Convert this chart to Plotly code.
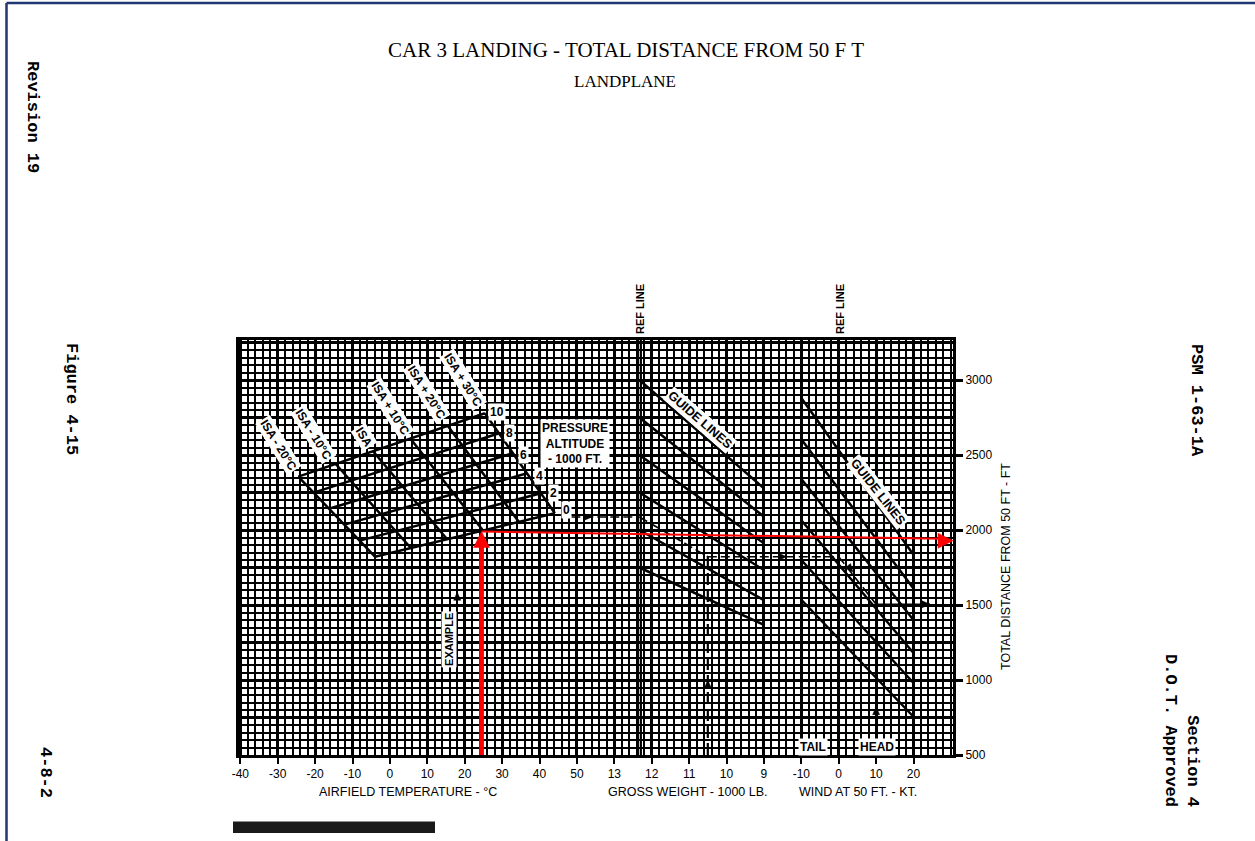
import math
import plotly.graph_objects as go

# ------------------------------------------------------------------ scales
# One shared x scale: airfield temperature (deg C) on the left, then the
# gross-weight and wind panels continue at the same grid pitch.
def weight_x(w):
    """Gross weight (1000 lb) -> shared x position."""
    return 190 - 10 * w


def wind_x(k):
    """Wind at 50 ft (kt) -> shared x position."""
    return 120 + k


X_RANGE = [-40.35, 150.56]
Y_RANGE = [500, 3266.7]

FIG_W, FIG_H = 1255, 841
PLOT_L, PLOT_R, PLOT_T, PLOT_B = 239, 953, 340, 755

# ------------------------------------------------------------------ ticks
TEMP_TICKS = [-40, -30, -20, -10, 0, 10, 20, 30, 40, 50]
WEIGHT_TICKS = [13, 12, 11, 10, 9]
WIND_TICKS = [-10, 0, 10, 20]
DIST_TICKS = [500, 1000, 1500, 2000, 2500, 3000]

# ------------------------------------------------- temperature / altitude
# pressure altitude lines (1000 ft): end points (deg C, ft)
ALT_LEVELS = [0, 2, 4, 6, 8, 10]
ALT_LEFT_T = [-4.0, -8.1, -12.2, -16.3, -20.4, -24.5]
ALT_LEFT_FT = [1822, 1929, 2036, 2142, 2249, 2356]
ALT_RIGHT_T = [44.1, 40.4, 36.7, 32.9, 29.2, 25.4]
ALT_RIGHT_FT = [2112, 2245, 2378, 2512, 2645, 2778]
ALT_LABEL_T = [47.3, 43.7, 39.9, 35.7, 32.1, 28.6]
ALT_LABEL_FT = [2133, 2245, 2360, 2500, 2645, 2789]

# ISA deviation lines: top end on the 10 line, bottom end on the 0 line
ISA_NAMES = ["ISA - 20°C", "ISA - 10°C", "ISA", "ISA + 10°C", "ISA + 20°C", "ISA + 30°C"]
ISA_TOP_T = [-24.5, -14.5, -4.5, 5.5, 15.5, 25.4]
ISA_TOP_FT = [2356, 2440, 2525, 2609, 2694, 2778]
ISA_BOT_T = [-4.0, 5.6, 15.3, 24.9, 34.5, 44.1]
ISA_BOT_FT = [1822, 1880, 1938, 1996, 2054, 2112]
ISA_LABEL_T = [-29.8, -20.5, -6.9, 0.0, 9.8, 19.6]
ISA_LABEL_FT = [2567, 2640, 2620, 2811, 2922, 3000]

# ------------------------------------------------------------ weight panel
REF_WEIGHT = 12.33
WEIGHT_GUIDE_END = 9.0
WEIGHT_GUIDE_START_FT = [3000, 2750, 2500, 2250, 2000, 1750]
WEIGHT_GUIDE_END_FT = [2278, 2089, 1911, 1733, 1533, 1367]

# -------------------------------------------------------------- wind panel
REF_WIND = 0
WIND_GUIDE_FROM, WIND_GUIDE_TO = -10, 20
WIND_GUIDE_START_FT = [2880, 2605, 2340, 2065, 1800, 1535]
WIND_GUIDE_END_FT = [1835, 1610, 1400, 1180, 980, 755]

# ------------------------------------------------------- printed example
EX_TEMP, EX_TEMP_TOP = 18.0, 1955
EX_REF_FT = 2087
EX_WEIGHT, EX_WEIGHT_FT = 10.5, 1822
EX_WIND, EX_RESULT_FT = 10, 1505

# ----------------------------------------------------- marked-up example
RED_TEMP, RED_REF_FT, RED_RESULT_FT = 24.5, 1990, 1929

DX = (X_RANGE[1] - X_RANGE[0]) / (PLOT_R - PLOT_L)   # data units per pixel
DY = (Y_RANGE[1] - Y_RANGE[0]) / (PLOT_B - PLOT_T)


def head(x_tip, y_tip, ux, uy, length, width):
    """Triangle arrow head with its tip at (x_tip, y_tip); size in pixels."""
    n = math.hypot(ux, uy)
    ux, uy = ux / n, uy / n
    nx, ny = -uy, ux
    bx, by = -ux * length, -uy * length
    xs = [x_tip,
          x_tip + (bx + nx * width / 2) * DX,
          x_tip + (bx - nx * width / 2) * DX,
          x_tip]
    ys = [y_tip,
          y_tip + (by + ny * width / 2) * DY,
          y_tip + (by - ny * width / 2) * DY,
          y_tip]
    return xs, ys


def segments(pairs):
    xs, ys = [], []
    for (x0, y0), (x1, y1) in pairs:
        xs += [x0, x1, None]
        ys += [y0, y1, None]
    return xs, ys


fig = go.Figure()


def add_lines(pairs, color="black", width=2.2, dash=None):
    xs, ys = segments(pairs)
    fig.add_trace(go.Scatter(x=xs, y=ys, mode="lines", hoverinfo="skip",
                             line=dict(color=color, width=width, dash=dash)))


def add_head(x, y, ux, uy, length=8, width=7, color="black"):
    xs, ys = head(x, y, ux, uy, length, width)
    fig.add_trace(go.Scatter(x=xs, y=ys, mode="lines", fill="toself",
                             fillcolor=color, hoverinfo="skip",
                             line=dict(color=color, width=0.5)))


# heavy 250 ft rules come from an overlaid axis
fig.add_trace(go.Scatter(x=[0], y=[1000], yaxis="y2", mode="markers",
                         marker=dict(opacity=0), hoverinfo="skip"))

# temperature / pressure-altitude net
add_lines([((ISA_TOP_T[i], ISA_TOP_FT[i]), (ISA_BOT_T[i], ISA_BOT_FT[i]))
           for i in range(len(ISA_NAMES))], width=2.5)
add_lines([((ALT_LEFT_T[i], ALT_LEFT_FT[i]), (ALT_RIGHT_T[i], ALT_RIGHT_FT[i]))
           for i in range(len(ALT_LEVELS))], width=2.5)

# reference lines
add_lines([((weight_x(REF_WEIGHT + 0.04), Y_RANGE[0]), (weight_x(REF_WEIGHT + 0.04), Y_RANGE[1])),
           ((weight_x(REF_WEIGHT - 0.04), Y_RANGE[0]), (weight_x(REF_WEIGHT - 0.04), Y_RANGE[1]))],
          width=2.2)
add_lines([((wind_x(REF_WIND), Y_RANGE[0]), (wind_x(REF_WIND), Y_RANGE[1]))], width=2.6)

# guide lines
add_lines([((weight_x(REF_WEIGHT), a), (weight_x(WEIGHT_GUIDE_END), b))
           for a, b in zip(WEIGHT_GUIDE_START_FT, WEIGHT_GUIDE_END_FT)], width=2.5)
add_lines([((wind_x(WIND_GUIDE_FROM), a), (wind_x(WIND_GUIDE_TO), b))
           for a, b in zip(WIND_GUIDE_START_FT, WIND_GUIDE_END_FT)], width=2.5)

# printed example path
add_lines([((EX_TEMP, Y_RANGE[0]), (EX_TEMP, EX_TEMP_TOP)),
           ((wind_x(EX_WIND), Y_RANGE[0]), (wind_x(EX_WIND), EX_RESULT_FT)),
           ((wind_x(EX_WIND), EX_RESULT_FT), (wind_x(24.4), EX_RESULT_FT))], width=1.6)
add_lines([((48.5, EX_REF_FT), (weight_x(REF_WEIGHT), EX_REF_FT)),
           ((weight_x(REF_WEIGHT), EX_REF_FT), (weight_x(EX_WEIGHT), EX_WEIGHT_FT)),
           ((weight_x(EX_WEIGHT), EX_WEIGHT_FT), (wind_x(REF_WIND), EX_WEIGHT_FT)),
           ((wind_x(REF_WIND), EX_WEIGHT_FT), (wind_x(EX_WIND), EX_RESULT_FT))],
          width=1.6, dash="9px,4px")
add_lines([((weight_x(EX_WEIGHT), Y_RANGE[0]), (weight_x(EX_WEIGHT), EX_WEIGHT_FT))],
          width=2.2, dash="12px,5px")
add_head(EX_TEMP, 1585, 0, 1)
add_head(54.0, EX_REF_FT, 1, 0)
add_head(weight_x(EX_WEIGHT), 1000, 0, 1)
add_head(106.1, EX_WEIGHT_FT, 1, 0)
add_head(wind_x(3.8), 1720, 38, -46)
add_head(wind_x(EX_WIND), 822, 0, 1)
add_head(wind_x(24.4), EX_RESULT_FT, 1, 0)

# marked-up example (red)
add_lines([((RED_TEMP, Y_RANGE[0]), (RED_TEMP, RED_REF_FT - 12 * DY))],
          color="#ff0000", width=4.8)
add_lines([((RED_TEMP, RED_REF_FT), (X_RANGE[1] - 12 * DX, RED_RESULT_FT + 2 * DY))],
          color="#ff0000", width=2)
add_head(RED_TEMP, RED_REF_FT, 0, 1, length=16, width=16, color="#ff0000")
add_head(X_RANGE[1], RED_RESULT_FT, 1, 0, length=15, width=15, color="#ff0000")

# ------------------------------------------------------------ annotations
SANS = "Liberation Sans"
MONO = "Liberation Mono"
SERIF = "Liberation Serif"


def paper_x(px):
    return (px - PLOT_L) / (PLOT_R - PLOT_L)


def paper_y(py):
    return (PLOT_B - py) / (PLOT_B - PLOT_T)


ann = []


def label(text, x, y, angle=0, size=12, bold=True, bg="white", **kw):
    t = f"<b>{text}</b>" if bold else text
    ann.append(dict(text=t, x=x, y=y, xref="x", yref="y", showarrow=False,
                    xanchor="center", yanchor="middle",
                    textangle=angle, bgcolor=bg, borderpad=1,
                    font=dict(family=SANS, size=size, color="black"), **kw))


for name, x, y in zip(ISA_NAMES, ISA_LABEL_T, ISA_LABEL_FT):
    label(name, x, y, angle=58, size=12)
for lev, x, y in zip(ALT_LEVELS, ALT_LABEL_T, ALT_LABEL_FT):
    label(str(lev), x, y, size=12)
label("PRESSURE<br>ALTITUDE<br>- 1000 FT.", 49.5, 2580, size=12)
label("GUIDE LINES", weight_x(10.71), 2733, angle=41, size=12.5)
label("GUIDE LINES", wind_x(10.5), 2253, angle=52, size=12.5)
label("EXAMPLE", 15.8, 1267, angle=-90, size=11)
label("TAIL", wind_x(-6.95), 555, size=12)
label("HEAD", wind_x(10.3), 555, size=12)


def page_text(text, px, py, size, family=SANS, angle=0, bold=False, **kw):
    t = f"<b>{text}</b>" if bold else text
    ann.append(dict(text=t, x=paper_x(px), y=paper_y(py), xref="paper", yref="paper",
                    xanchor="center", yanchor="middle", showarrow=False,
                    textangle=angle,
                    font=dict(family=family, size=size, color="black"), **kw))


page_text("CAR 3 LANDING - TOTAL DISTANCE FROM 50 F T", 626, 50, 21, family=SERIF)
page_text("LANDPLANE", 625, 82, 17, family=SERIF)
page_text("REF LINE", 640, 309, 11, angle=-90, bold=True)
page_text("REF LINE", 840, 309, 11, angle=-90, bold=True)
page_text("AIRFIELD TEMPERATURE - °C", 408, 792, 12.5)
page_text("GROSS WEIGHT - 1000 LB.", 688, 792, 12.5)
page_text("WIND AT 50 FT. - KT.", 858, 792, 12.5)
page_text("TOTAL DISTANCE FROM 50 FT - FT", 1006, 567, 12.5, angle=-90)
page_text("Revision 19", 33, 117, 17, family=MONO, angle=90, bold=True)
page_text("Figure 4-15", 72, 399, 17, family=MONO, angle=90, bold=True)
page_text("4-8-2", 46, 772, 17, family=MONO, angle=90, bold=True)
page_text("PSM 1-63-1A", 1197, 400, 17, family=MONO, angle=90, bold=True)
page_text("Section 4<br>D.O.T. Approved", 1182, 730, 17, family=MONO, angle=90,
          bold=True, align="right")

# ----------------------------------------------------------------- shapes
shapes = [
    dict(type="rect", xref="paper", yref="paper",
         x0=paper_x(233), x1=paper_x(435), y0=paper_y(833), y1=paper_y(821.5),
         fillcolor="#1a1a1a", line=dict(width=0)),
    dict(type="line", xref="paper", yref="paper",
         x0=paper_x(6.5), x1=paper_x(6.5), y0=paper_y(841), y1=paper_y(3),
         line=dict(color="#1f3670", width=2.5)),
    dict(type="line", xref="paper", yref="paper",
         x0=paper_x(6.5), x1=paper_x(1255), y0=paper_y(3), y1=paper_y(3),
         line=dict(color="#1f3670", width=2.5)),
]

x_tickvals = TEMP_TICKS + [weight_x(w) for w in WEIGHT_TICKS] + [wind_x(k) for k in WIND_TICKS]
x_ticktext = [str(v) for v in TEMP_TICKS] + [str(v) for v in WEIGHT_TICKS] + [str(v) for v in WIND_TICKS]

fig.update_layout(
    width=FIG_W, height=FIG_H, autosize=False,
    margin=dict(l=PLOT_L, r=FIG_W - PLOT_R, t=PLOT_T, b=FIG_H - PLOT_B, pad=0),
    paper_bgcolor="white", plot_bgcolor="white",
    showlegend=False,
    annotations=ann, shapes=shapes,
    xaxis=dict(range=X_RANGE, tickmode="array", tickvals=x_tickvals, ticktext=x_ticktext,
               showgrid=True, gridcolor="black", gridwidth=2.6, zeroline=False,
               minor=dict(tick0=-40, dtick=2, showgrid=True, gridcolor="black",
                          gridwidth=1.5, ticks=""),
               ticks="outside", ticklen=6, tickwidth=2, tickcolor="black",
               showline=True, mirror=True, linecolor="black", linewidth=3,
               tickfont=dict(family=SANS, size=12, color="black"), fixedrange=True),
    yaxis=dict(range=Y_RANGE, side="right", tickmode="array", tickvals=DIST_TICKS,
               ticktext=[str(v) for v in DIST_TICKS],
               showgrid=True, gridcolor="black", gridwidth=2.6, zeroline=False,
               minor=dict(tick0=500, dtick=50, showgrid=True, gridcolor="black",
                          gridwidth=1.5, ticks=""),
               ticks="outside", ticklen=7, tickwidth=2.5, tickcolor="black",
               showline=True, mirror=True, linecolor="black", linewidth=3,
               tickfont=dict(family=SANS, size=12, color="black"), fixedrange=True),
    yaxis2=dict(range=Y_RANGE, overlaying="y", side="left", tickmode="linear",
                tick0=500, dtick=250, showgrid=True, gridcolor="black", gridwidth=2.6,
                showticklabels=False, ticks="", zeroline=False, showline=False,
                fixedrange=True),
)

fig.write_html("out.html", config={"displayModeBar": False})
